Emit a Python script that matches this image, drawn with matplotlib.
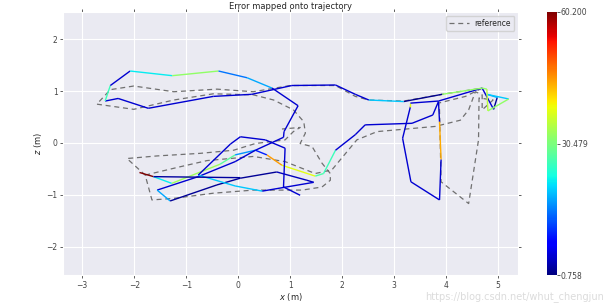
import numpy as np
import matplotlib
matplotlib.use("Agg")
import matplotlib.pyplot as plt
import seaborn as sns
from matplotlib.collections import LineCollection
from matplotlib.colors import Normalize
from matplotlib.cm import ScalarMappable

# estimated trajectory (x, z) with the APE value of each segment (nan = gap)
est_x = [-1.90, -1.63, -1.28, -0.35, -0.06, 0.33, 0.55, 0.84, 1.48, 1.64,
         1.87, 2.25, 2.44, 3.34, 3.74, 3.85, 3.87, 3.90, 3.87, 3.32,
         3.16, 3.31, 3.31, 3.85, 4.69, 4.91, 4.98, 4.78, 5.20, 4.80,
         4.78, 4.69, 3.92, 3.18, 2.51, 2.25, 1.87, 1.03, 0.26, -0.48,
         -1.73, -2.31, -2.56, -2.46, -2.08, -1.27, -0.38, 0.17, 0.65, 1.15,
         0.88, 0.87, 0.33, -0.06, -0.77, -1.56, -1.31, -0.41, 0.04, 0.74,
         1.32, 1.45, 0.46, -0.06, -0.77, -0.15, 0.04, 0.52, 0.90, 0.87,
         1.19, np.nan, 0.04, -1.63]
est_z = [-0.57, -0.65, -0.78, -0.41, -0.23, -0.14, -0.23, -0.43, -0.64, -0.59,
         -0.14, 0.16, 0.35, 0.38, 0.54, 0.80, 0.41, -0.32, -1.10, -0.75,
         0.09, 0.70, 0.77, 0.81, 1.06, 0.65, 0.88, 0.94, 0.85, 0.62,
         1.04, 1.06, 0.94, 0.80, 0.83, 0.94, 1.12, 1.11, 0.94, 0.90,
         0.67, 0.86, 0.81, 1.11, 1.39, 1.30, 1.39, 1.26, 1.06, 0.72,
         0.22, 0.11, -0.14, -0.36, -0.65, -0.91, -1.12, -0.81, -0.68, -0.56,
         -0.72, -0.76, -0.93, -0.83, -0.62, -0.02, 0.12, 0.06, -0.10, -0.85,
         -1.01, np.nan, -0.67, -0.65]
est_err = [60.2, 22, 33, 28, 17, 10, 45, 38, 27, 26,
           5, 5, 5, 5, 5, 5, 44, 5, 5, 5,
           5, 38, 5, 5, 5, 2, 18, 20, 32, 35,
           32, 32, 1.5, 20, 5, 5, 5, 5, 5, 5,
           5, 5, 26, 5, 22, 32, 15, 18, 5, 5,
           5, 5, 5, 5, 5, 18, 2, 2, 2, 4,
           4, 5, 20, 20, 5, 5, 5, 5, 5, 5,
           5, np.nan, 2.5, 2.5]

# reference trajectory (x, z)
ref_x = [-1.79, -1.12, -0.60, 0.29, 0.90, 1.48, 1.80, 2.28, 2.67, 3.79,
         4.27, 4.43, 4.56, 4.69, 4.69, 4.90, 4.63, 4.62, 4.43, 3.90,
         3.87, 3.85, 4.37, 4.69, 3.92, 3.18, 2.51, 2.25, 1.87, 1.00,
         0.29, -0.41, -1.24, -2.01, -2.46, -2.72, -2.01, -1.24, -0.48, 0.29,
         0.68, 1.06, 1.26, 1.29, 1.19, 1.42, 1.61, 1.77, 1.77, 1.61,
         1.23, 0.29, -0.48, -1.24, -1.66, -1.79, -2.14, -1.56, -0.73, -0.09,
         0.33, 0.90, 1.06, 1.19, 0.84]
ref_z = [-0.62, -0.46, -0.34, -0.26, -0.36, -0.59, -0.52, 0.06, 0.22, 0.32,
         0.44, 0.64, 0.99, 0.93, 0.64, 0.83, 0.87, 0.06, -1.17, -0.75,
         0.64, 0.77, 0.90, 1.06, 0.94, 0.81, 0.83, 0.90, 1.11, 1.11,
         0.99, 1.04, 0.99, 1.10, 1.03, 0.75, 0.65, 0.83, 0.95, 0.93,
         0.83, 0.64, 0.41, 0.19, -0.01, -0.07, -0.39, -0.59, -0.72, -0.85,
         -0.91, -0.91, -0.97, -1.07, -1.10, -0.62, -0.30, -0.25, -0.20, -0.14,
         -0.01, 0.06, 0.22, 0.30, 0.27]

err_min, err_max = 0.758, 60.200
cbar_ticks = [err_min, (err_min + err_max) / 2, err_max]

sns.set_style("darkgrid")
plt.rcParams['font.family'] = ['DejaVu Sans']

fig = plt.figure(figsize=(6.13, 3.03), dpi=100)
ax = fig.add_axes([0.1028, 0.0924, 0.7423, 0.868])
cax = fig.add_axes([0.892, 0.0924, 0.0163, 0.868])

ax.plot(ref_x, ref_z, linestyle='--', dashes=(4, 3), color='#707070', lw=0.9,
        label='reference')

pts = np.column_stack([est_x, est_z])
segs, vals = [], []
for i in range(len(pts) - 1):
    if np.isnan(pts[i]).any() or np.isnan(pts[i + 1]).any():
        continue
    segs.append(pts[i:i + 2])
    vals.append(est_err[i])
norm = Normalize(vmin=err_min, vmax=err_max)
lc = LineCollection(segs, cmap='jet', norm=norm, linewidths=1.0)
lc.set_array(np.array(vals))
ax.add_collection(lc)

ax.set_xlim(-3.37, 5.38)
ax.set_ylim(-2.55, 2.53)
ax.set_xticks(range(-3, 6))
ax.set_yticks(range(-2, 3))
ax.tick_params(axis='both', which='major', labelsize=5.5, length=2, width=0.6,
               direction='out', top=True, right=True, bottom=True, left=True,
               colors='#444444', pad=2)
ax.set_xlabel("$x$ (m)", fontsize=6, labelpad=1)
ax.set_ylabel("$z$ (m)", fontsize=6, labelpad=2)
ax.set_title("Error mapped onto trajectory", fontsize=6, pad=2)
ax.legend(loc='upper right', fontsize=5.5, frameon=True, handlelength=2.5)

sm = ScalarMappable(norm=norm, cmap='jet')
cb = fig.colorbar(sm, cax=cax, ticks=cbar_ticks, format='%.3f')
cb.outline.set_visible(False)
cax.tick_params(labelsize=5.5, length=2, width=0.6, pad=1, colors='#444444')

fig.text(0.985, 0.004, "https://blog.csdn.net/whut_chengjun", ha='right', va='bottom',
         fontsize=7, color='#d8d8d8', alpha=0.9)

fig.savefig('out.png', dpi=100)
